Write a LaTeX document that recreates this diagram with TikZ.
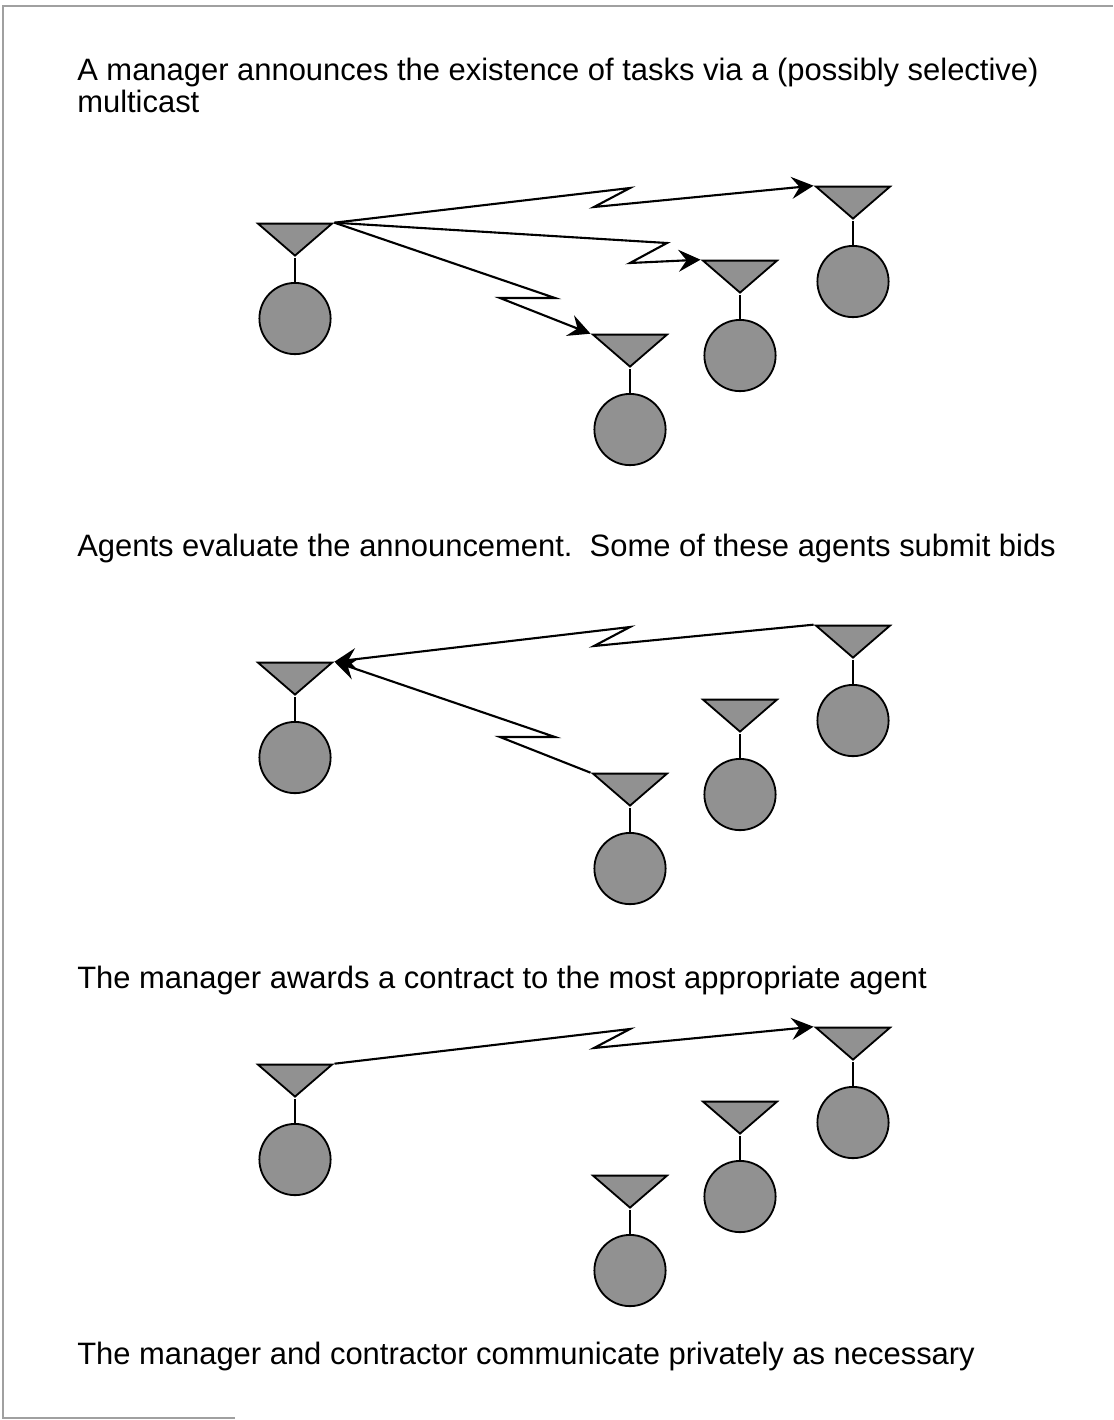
\documentclass[tikz,border=0pt]{standalone}
\usepackage{fontspec}
\setmainfont{Liberation Sans}
\usetikzlibrary{positioning,shapes.geometric,arrows.meta}
\definecolor{agentgray}{RGB}{145,145,145}
\definecolor{framegray}{RGB}{160,160,160}

\begin{document}
\begin{tikzpicture}[x=0.025cm, y=-0.025cm,
  antenna/.style={isosceles triangle, isosceles triangle stretches, shape border rotate=270,
    minimum width=1.85cm, minimum height=0.8cm, inner sep=0pt,
    draw=black, fill=agentgray, line width=1.3pt, anchor=apex},
  agent/.style={circle, minimum size=1.78cm, inner sep=0pt, draw=black, fill=agentgray, line width=1.3pt},
  stem/.style={line width=1.3pt},
  msg/.style={line width=1.5pt, line join=miter, -{Stealth[length=0.55cm, width=0.55cm, inset=0.2cm]}},
  caption/.style={anchor=base west, inner sep=0pt, font=\fontsize{22}{26}\selectfont}]
\useasboundingbox (0,0) rectangle (1113,1420);
\draw[framegray, line width=1.2pt] (235,1418) -- (3,1418) -- (3,6) -- (1113,6);

\node[caption] (cap1) at (77,80) {A manager announces the existence of tasks via a (possibly selective)};
\node[caption] (cap1b) at (77,112) {multicast};
\node[caption] (cap2) at (77,556) {Agents evaluate the announcement.\ \ Some of these agents submit bids};
\node[caption] (cap3) at (77,988) {The manager awards a contract to the most appropriate agent};
\node[caption] (cap4) at (77,1364) {The manager and contractor communicate privately as necessary};

% announcement
\node[antenna] (m1-t) at (295,258) {};
\node[agent, below=0.6cm of m1-t.apex] (m1) {};
\node[antenna] (a1-t) at (853,221) {};
\node[agent, below=0.6cm of a1-t.apex] (a1) {};
\node[antenna] (b1-t) at (740,295) {};
\node[agent, below=0.6cm of b1-t.apex] (b1) {};
\node[antenna] (c1-t) at (630,369) {};
\node[agent, below=0.6cm of c1-t.apex] (c1) {};
\draw[stem] (m1-t.apex) -- (m1); \draw[stem] (a1-t.apex) -- (a1);
\draw[stem] (b1-t.apex) -- (b1); \draw[stem] (c1-t.apex) -- (c1);
\draw[msg] (m1-t.left corner) -- (630,188) -- (594,207) -- (a1-t.right corner);
\draw[msg] (m1-t.left corner) -- (667,243) -- (630,263) -- (b1-t.right corner);
\draw[msg] (m1-t.left corner) -- (555,298) -- (500,298) -- (c1-t.right corner);

% bids
\node[antenna] (m2-t) at (295,697) {};
\node[agent, below=0.6cm of m2-t.apex] (m2) {};
\node[antenna] (a2-t) at (853,660) {};
\node[agent, below=0.6cm of a2-t.apex] (a2) {};
\node[antenna] (b2-t) at (740,734) {};
\node[agent, below=0.6cm of b2-t.apex] (b2) {};
\node[antenna] (c2-t) at (630,808) {};
\node[agent, below=0.6cm of c2-t.apex] (c2) {};
\draw[stem] (m2-t.apex) -- (m2); \draw[stem] (a2-t.apex) -- (a2);
\draw[stem] (b2-t.apex) -- (b2); \draw[stem] (c2-t.apex) -- (c2);
\draw[msg] (a2-t.right corner) -- (594,646) -- (630,627) -- (m2-t.left corner);
\draw[msg] (c2-t.right corner) -- (500,737) -- (555,737) -- (m2-t.left corner);

% award
\node[antenna] (m3-t) at (295,1099) {};
\node[agent, below=0.6cm of m3-t.apex] (m3) {};
\node[antenna] (a3-t) at (853,1062) {};
\node[agent, below=0.6cm of a3-t.apex] (a3) {};
\node[antenna] (b3-t) at (740,1136) {};
\node[agent, below=0.6cm of b3-t.apex] (b3) {};
\node[antenna] (c3-t) at (630,1210) {};
\node[agent, below=0.6cm of c3-t.apex] (c3) {};
\draw[stem] (m3-t.apex) -- (m3); \draw[stem] (a3-t.apex) -- (a3);
\draw[stem] (b3-t.apex) -- (b3); \draw[stem] (c3-t.apex) -- (c3);
\draw[msg] (m3-t.left corner) -- (630,1029) -- (594,1048) -- (a3-t.right corner);
\end{tikzpicture}
\end{document}
